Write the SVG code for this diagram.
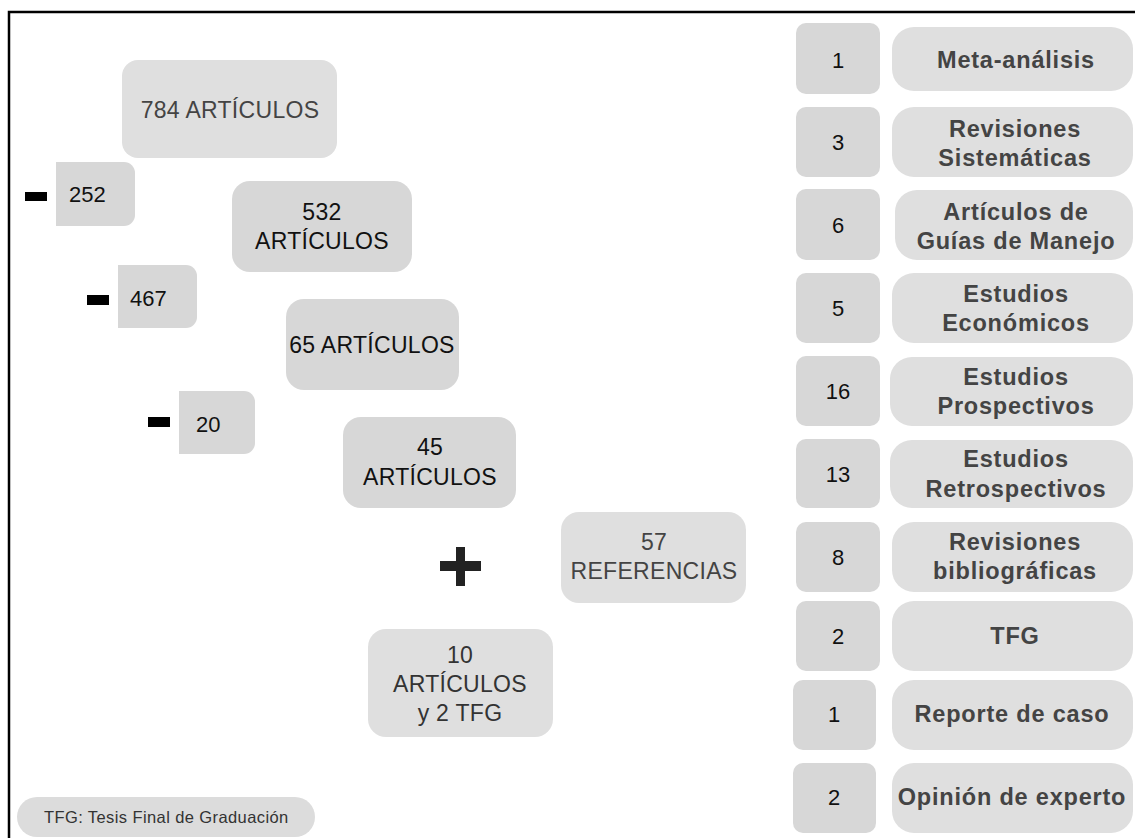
<svg xmlns="http://www.w3.org/2000/svg" width="1135" height="838" viewBox="0 0 1135 838">
<style>
text{font-family:"Liberation Sans",Arial,sans-serif;}
.dk{fill:#d7d7d7;}
.lt{fill:#dfdfdf;}
.t1{font-size:23px;fill:#111;text-anchor:middle;letter-spacing:0.3px;}
.t2{font-size:23px;fill:#444;text-anchor:middle;letter-spacing:0.3px;}
.t3{font-size:23px;fill:#333;text-anchor:middle;letter-spacing:0.3px;}
.num{font-size:22px;fill:#111;}
.nb{font-size:22px;fill:#111;text-anchor:middle;}
.lb{font-size:23.5px;font-weight:bold;fill:#444;text-anchor:middle;letter-spacing:0.8px;}
.minus{fill:#000;}
</style>
<rect width="1135" height="838" fill="#fff"/>
<path d="M9 838 V12 H1135" fill="none" stroke="#000" stroke-width="2.5"/>

<g id="n784"><rect class="lt" x="122" y="60" width="215" height="98" rx="16"/><text class="t2" x="230" y="118">784 ARTÍCULOS</text></g>
<g id="m252"><rect class="minus" x="25" y="192" width="22" height="9"/><path class="dk" d="M56 162 H124 A11 11 0 0 1 135 173 V215 A11 11 0 0 1 124 226 H56 Z"/><text class="num" x="69" y="202">252</text></g>
<g id="n532"><rect class="dk" x="232" y="181" width="180" height="91" rx="18"/><text class="t1" x="322" y="220">532</text><text class="t1" x="322" y="249">ARTÍCULOS</text></g>
<g id="m467"><rect class="minus" x="87" y="295" width="22" height="10"/><path class="dk" d="M118 265 H186 A11 11 0 0 1 197 276 V317 A11 11 0 0 1 186 328 H118 Z"/><text class="num" x="130" y="306">467</text></g>
<g id="n65"><rect class="dk" x="286" y="299" width="173" height="91" rx="18"/><text class="t1" x="372" y="353">65 ARTÍCULOS</text></g>
<g id="m20"><rect class="minus" x="148" y="417" width="22" height="10"/><path class="dk" d="M179 391 H244 A11 11 0 0 1 255 402 V443 A11 11 0 0 1 244 454 H179 Z"/><text class="num" x="196" y="432">20</text></g>
<g id="n45"><rect class="dk" x="343" y="417" width="173" height="91" rx="18"/><text class="t1" x="430" y="455">45</text><text class="t1" x="430" y="485">ARTÍCULOS</text></g>
<g id="plus"><rect x="440" y="561" width="41" height="10" fill="#222"/><rect x="456" y="547" width="9" height="39" fill="#222"/></g>
<g id="n57"><rect class="lt" x="561" y="512" width="185" height="91" rx="18"/><text class="t2" x="654" y="550">57</text><text class="t2" x="654" y="579">REFERENCIAS</text></g>
<g id="n10"><rect class="lt" x="368" y="629" width="185" height="108" rx="18"/><text class="t3" x="460" y="663">10</text><text class="t3" x="460" y="692">ARTÍCULOS</text><text class="t3" x="460" y="721">y 2 TFG</text></g>
<g id="note"><rect x="17" y="797" width="298" height="40" rx="20" fill="#dcdcdc"/><text x="44" y="823" font-size="16.5" letter-spacing="0.4" fill="#333">TFG: Tesis Final de Graduación</text></g>

<g id="r1"><rect class="dk" x="796" y="23" width="84" height="71" rx="10"/><text class="nb" x="838" y="68">1</text><rect class="lt" x="892" y="27" width="241" height="64" rx="22"/><text class="lb" x="1016" y="68">Meta-análisis</text></g>
<g id="r2"><rect class="dk" x="796" y="107" width="84" height="70" rx="10"/><text class="nb" x="838" y="150">3</text><rect class="lt" x="892" y="107" width="241" height="70" rx="22"/><text class="lb" x="1015" y="137">Revisiones</text><text class="lb" x="1015" y="166">Sistemáticas</text></g>
<g id="r3"><rect class="dk" x="796" y="189" width="84" height="71" rx="10"/><text class="nb" x="838" y="233">6</text><rect class="lt" x="895" y="190" width="238" height="70" rx="22"/><text class="lb" x="1016" y="220">Artículos de</text><text class="lb" x="1016" y="249">Guías de Manejo</text></g>
<g id="r4"><rect class="dk" x="796" y="273" width="84" height="70" rx="10"/><text class="nb" x="838" y="316">5</text><rect class="lt" x="892" y="273" width="241" height="70" rx="22"/><text class="lb" x="1016" y="302">Estudios</text><text class="lb" x="1016" y="331">Económicos</text></g>
<g id="r5"><rect class="dk" x="796" y="356" width="84" height="70" rx="10"/><text class="nb" x="838" y="399">16</text><rect class="lt" x="890" y="357" width="243" height="69" rx="22"/><text class="lb" x="1016" y="385">Estudios</text><text class="lb" x="1016" y="414">Prospectivos</text></g>
<g id="r6"><rect class="dk" x="796" y="439" width="84" height="69" rx="10"/><text class="nb" x="838" y="482">13</text><rect class="lt" x="890" y="440" width="243" height="68" rx="22"/><text class="lb" x="1016" y="467">Estudios</text><text class="lb" x="1016" y="497">Retrospectivos</text></g>
<g id="r7"><rect class="dk" x="796" y="522" width="84" height="70" rx="10"/><text class="nb" x="838" y="565">8</text><rect class="lt" x="892" y="522" width="241" height="70" rx="22"/><text class="lb" x="1015" y="550">Revisiones</text><text class="lb" x="1015" y="579">bibliográficas</text></g>
<g id="r8"><rect class="dk" x="796" y="601" width="84" height="70" rx="10"/><text class="nb" x="838" y="644">2</text><rect class="lt" x="892" y="601" width="241" height="70" rx="22"/><text class="lb" x="1015" y="644">TFG</text></g>
<g id="r9"><rect class="dk" x="793" y="680" width="83" height="70" rx="10"/><text class="nb" x="834" y="722">1</text><rect class="lt" x="892" y="680" width="241" height="70" rx="22"/><text class="lb" x="1012" y="722">Reporte de caso</text></g>
<g id="r10"><rect class="dk" x="793" y="763" width="83" height="70" rx="10"/><text class="nb" x="834" y="805">2</text><rect class="lt" x="892" y="763" width="241" height="70" rx="22"/><text class="lb" x="1012" y="805">Opinión de experto</text></g>
<g id="connectors"></g>
</svg>
